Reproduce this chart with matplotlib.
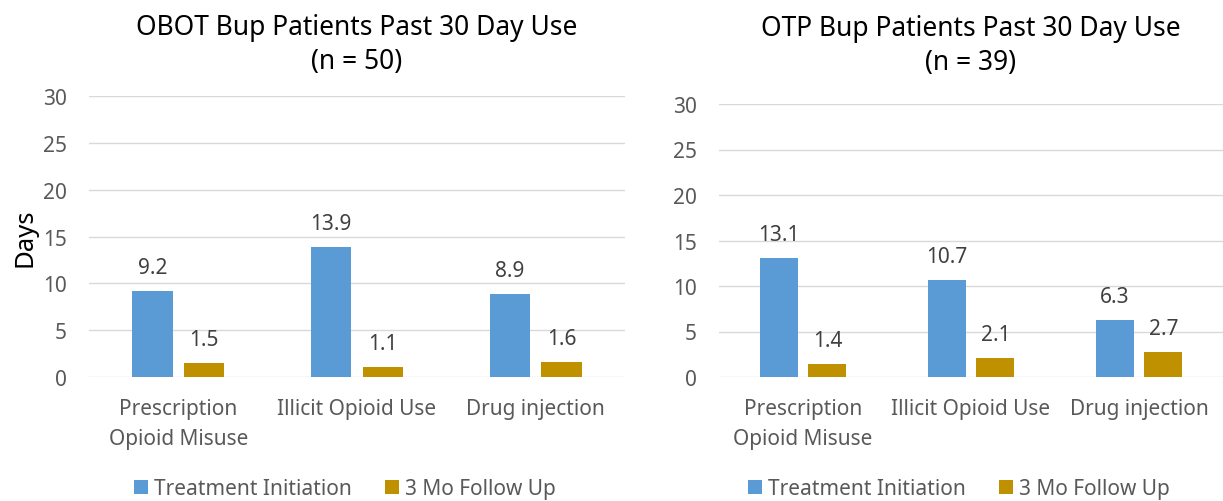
import matplotlib
matplotlib.use("Agg")
import matplotlib.pyplot as plt
import numpy as np

plt.rcParams['font.family'] = ['Noto Sans', 'DejaVu Sans']

categories = ["Prescription\nOpioid Misuse", "Illicit Opioid Use", "Drug injection"]
series_names = ["Treatment Initiation", "3 Mo Follow Up"]
obot_init = [9.2, 13.9, 8.9]
obot_follow = [1.5, 1.1, 1.6]
otp_init = [13.1, 10.7, 6.3]
otp_follow = [1.4, 2.1, 2.7]
titles = ["OBOT Bup Patients Past 30 Day Use\n(n = 50)", "OTP Bup Patients Past 30 Day Use\n(n = 39)"]
yticks = [0, 5, 10, 15, 20, 25, 30]

BLUE = "#5B9BD5"
GOLD = "#BF9000"
GRID = "#D9D9D9"
TICK = "#595959"
LABEL = "#404040"

W, H = 1223, 502
fig = plt.figure(figsize=(W / 100, H / 100), dpi=100)

def fx(px):
    return px / W

def fy(py):
    return 1 - py / H

ax1 = fig.add_axes([fx(89), fy(378), fx(625 - 89), fy(97) - fy(378)])
ax2 = fig.add_axes([fx(719), fy(378), fx(1223 - 719), fy(105) - fy(378)])

panels = [(ax1, obot_init, obot_follow, titles[0], 357, 45),
          (ax2, otp_init, otp_follow, titles[1], 971, 46)]

bw = 0.225
off = 0.145
FS = 15
for ax, a, b, title, cx, ty in panels:
    x = np.arange(len(categories))
    r1 = ax.bar(x - off, a, bw, color=BLUE, label=series_names[0], zorder=3)
    r2 = ax.bar(x + off, b, bw, color=GOLD, label=series_names[1], zorder=3)
    for rects, vals in ((r1, a), (r2, b)):
        for r, v in zip(rects, vals):
            ax.annotate(f"{v:.1f}", (r.get_x() + r.get_width() / 2, v),
                        xytext=(0, 13), textcoords="offset points",
                        ha="center", va="baseline", fontsize=FS, color=LABEL)
    ax.set_ylim(0, 30)
    ax.set_xlim(-0.5, 2.5)
    ax.set_yticks(yticks)
    ax.set_xticks(x)
    ax.set_xticklabels(categories, fontsize=FS, color=TICK, linespacing=1.6)
    ax.tick_params(axis='y', labelsize=FS, labelcolor=TICK, length=0, pad=16)
    ax.tick_params(axis='x', length=0, pad=15)
    ax.grid(axis='y', color=GRID, linewidth=1.0, zorder=0)
    for s in ax.spines.values():
        s.set_visible(False)
    ax.set_axisbelow(True)
    fig.text(fx(cx), fy(ty), title, ha="center", va="center", fontsize=19,
             color="black", linespacing=1.3)
    leg = fig.legend(handles=[r1, r2], labels=series_names, loc="center",
                     bbox_to_anchor=(fx(cx - 12), fy(490)), ncol=2, frameon=False,
                     fontsize=FS, handlelength=0.65, handleheight=0.65,
                     handletextpad=0.3, columnspacing=1.6, borderaxespad=0)
    for t in leg.get_texts():
        t.set_color(TICK)

ax1.set_ylabel("Days", fontsize=18.5, color="black", labelpad=4)

fig.savefig("out.png", dpi=100)
